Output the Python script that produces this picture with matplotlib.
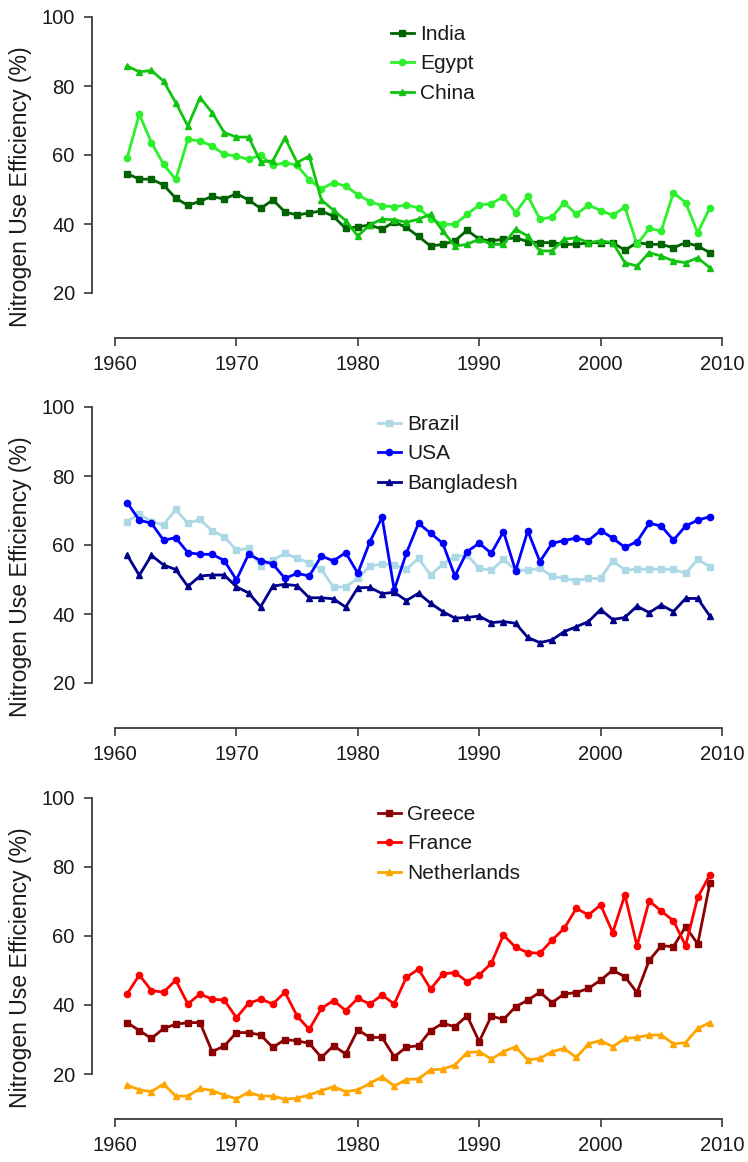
import matplotlib
matplotlib.use("Agg")
import matplotlib.pyplot as plt

# Years on the x axis (one point per year)
YEARS = list(range(1961, 2010))

# Panel 1 - green countries
INDIA = [54.6, 53.0, 53.0, 51.3, 47.5, 45.4, 46.6, 48.0, 47.2, 48.8,
         47.0, 44.5, 47.0, 43.5, 42.6, 43.2, 43.8, 42.2, 38.7, 39.2,
         39.7, 38.5, 40.6, 39.0, 36.4, 33.6, 34.1, 35.1, 38.2, 35.6,
         35.1, 35.6, 36.0, 34.9, 34.6, 34.6, 34.1, 34.1, 34.6, 34.6,
         34.6, 32.4, 34.6, 34.1, 34.1, 33.1, 34.6, 33.6, 31.7]
EGYPT = [59.2, 71.8, 63.6, 57.3, 52.9, 64.5, 64.1, 62.6, 60.2, 59.7,
         58.7, 60.0, 57.0, 57.8, 57.0, 52.8, 50.2, 52.0, 51.0, 48.5,
         46.5, 45.3, 45.0, 45.5, 44.7, 41.5, 39.9, 39.9, 42.8, 45.5,
         45.9, 47.9, 43.3, 48.1, 41.4, 42.0, 46.2, 42.8, 45.5, 43.9,
         42.5, 44.9, 34.1, 38.7, 38.0, 49.1, 46.2, 37.5, 44.7]
CHINA = [85.8, 84.1, 84.5, 81.4, 75.2, 68.4, 76.6, 72.3, 66.5, 65.2,
         65.2, 58.0, 58.3, 65.0, 57.8, 59.7, 47.0, 44.0, 41.0, 36.5,
         39.8, 41.4, 41.2, 40.5, 41.4, 42.8, 38.0, 33.6, 34.1, 35.6,
         34.1, 34.1, 38.5, 36.5, 32.2, 32.2, 35.6, 36.0, 34.6, 35.1,
         34.6, 28.8, 27.8, 31.7, 30.7, 29.3, 28.8, 30.2, 27.3]

# Panel 2 - blue countries
BRAZIL = [66.8, 69.0, 66.8, 65.8, 70.3, 66.3, 67.4, 64.1, 62.4, 58.5,
          59.0, 53.9, 55.6, 57.6, 56.1, 54.9, 53.0, 47.7, 47.9, 50.3,
          53.9, 54.5, 54.2, 53.0, 56.1, 51.3, 54.5, 56.6, 57.1, 53.2,
          52.7, 55.8, 52.7, 52.7, 53.2, 51.0, 50.3, 49.7, 50.3, 50.3,
          55.5, 52.7, 53.0, 53.0, 53.0, 52.9, 51.8, 55.8, 53.7]
USA = [72.3, 67.2, 66.3, 61.4, 62.1, 57.8, 57.3, 57.3, 55.5, 49.9,
       57.3, 55.5, 54.5, 50.3, 51.8, 51.0, 56.8, 55.4, 57.8, 51.8,
       61.0, 68.0, 47.0, 57.6, 66.3, 63.4, 60.5, 51.0, 58.1, 60.5,
       57.6, 63.9, 52.5, 64.1, 55.2, 60.5, 61.3, 62.0, 61.3, 64.2,
       62.0, 59.3, 61.0, 66.3, 65.5, 61.4, 65.5, 67.2, 68.2]
BANGLADESH = [57.1, 51.2, 57.0, 54.2, 52.9, 48.0, 51.0, 51.3, 51.3, 47.9,
              46.1, 42.1, 48.1, 48.6, 48.2, 44.7, 44.7, 44.4, 42.0, 47.6,
              47.7, 45.9, 46.3, 43.9, 46.0, 43.1, 40.7, 38.8, 39.0, 39.4,
              37.5, 37.8, 37.3, 33.2, 31.7, 32.5, 34.9, 36.3, 37.8, 41.3,
              38.4, 39.0, 42.3, 40.4, 42.6, 40.7, 44.5, 44.5, 39.4]

# Panel 3 - red / orange countries
GREECE = [34.9, 32.6, 30.3, 33.2, 34.4, 34.9, 34.9, 26.5, 28.1, 32.0,
          32.0, 31.3, 27.7, 30.0, 29.6, 28.9, 24.8, 28.2, 25.8, 32.8,
          30.6, 30.6, 25.0, 27.8, 28.2, 32.6, 34.7, 33.7, 36.9, 29.4,
          36.8, 35.8, 39.5, 41.4, 43.7, 40.7, 43.2, 43.6, 44.8, 47.2,
          50.1, 48.2, 43.6, 52.9, 57.2, 56.9, 62.7, 57.7, 75.3]
FRANCE = [43.2, 48.7, 44.2, 43.7, 47.2, 40.3, 43.2, 41.7, 41.4, 36.3,
          40.5, 41.7, 40.3, 43.7, 36.8, 32.9, 39.0, 41.3, 38.4, 41.9,
          40.3, 42.9, 40.3, 48.0, 50.4, 44.6, 49.0, 49.4, 46.8, 48.7,
          52.1, 60.3, 56.7, 55.2, 55.0, 58.8, 62.2, 68.0, 66.1, 69.0,
          61.0, 71.9, 57.1, 70.2, 67.2, 64.4, 57.2, 71.2, 77.7]
NETHERLANDS = [16.8, 15.4, 14.9, 17.1, 13.6, 13.6, 15.8, 15.2, 13.9, 12.8,
               14.7, 13.6, 13.6, 12.7, 13.0, 13.9, 15.2, 16.3, 14.9, 15.4,
               17.3, 19.2, 16.5, 18.4, 18.6, 21.2, 21.4, 22.6, 26.2, 26.5,
               24.3, 26.5, 27.9, 24.1, 24.5, 26.5, 27.4, 24.8, 28.7, 29.7,
               27.9, 30.3, 30.6, 31.3, 31.3, 28.7, 29.1, 33.2, 34.9]

X_TICKS = [1960, 1970, 1980, 1990, 2000, 2010]
Y_TICKS = [20, 40, 60, 80, 100]
Y_LABEL = "Nitrogen Use Efficiency (%)"

# Figure size in pixels and the pixel scale
W, H, DPI = 748, 1162, 100
X1960 = 115            # pixel x of the year 1960
PX_PER_YEAR = 12.14
PX_PER_UNIT = 3.45     # pixels per 1 % on the y axis
SPINE_X = 91.5         # pixel x of the y axis line
RIGHT_X = 740

FONT = "Liberation Sans"
TEXT_COLOR = "#1a1a1a"
AXIS_COLOR = "#3a3a3a"


def add_panel(fig, y100_px, series, legend_xy):
    """Draw one panel; y100_px is the pixel row of the 100 % tick."""
    bottom_px = y100_px + 321    # x axis line
    top_px = y100_px - 12
    ax = fig.add_axes([SPINE_X / W, 1 - bottom_px / H,
                       (RIGHT_X - SPINE_X) / W, (bottom_px - top_px) / H])

    ax.set_xlim(1960 - (X1960 - SPINE_X) / PX_PER_YEAR,
                1960 + (RIGHT_X - X1960) / PX_PER_YEAR)
    ax.set_ylim(20 - (bottom_px - (y100_px + 80 * PX_PER_UNIT)) / PX_PER_UNIT,
                100 + (y100_px - top_px) / PX_PER_UNIT)

    # Each country: line with small markers
    for name, values, color, marker, ms in series:
        ax.plot(YEARS, values, color=color, marker=marker, markersize=ms,
                linewidth=2.0, label=name, clip_on=False)

    # R-like axes: only left and bottom lines, limited to the tick range
    for side in ("top", "right"):
        ax.spines[side].set_visible(False)
    ax.spines["left"].set_bounds(20, 100)
    ax.spines["bottom"].set_bounds(1960, 2010)
    for side in ("left", "bottom"):
        ax.spines[side].set_color(AXIS_COLOR)
        ax.spines[side].set_linewidth(1.3)

    ax.set_xticks(X_TICKS)
    ax.set_yticks(Y_TICKS)
    ax.tick_params(axis="both", direction="out", length=6, width=1.2,
                   color=AXIS_COLOR, labelsize=14.5, labelcolor=TEXT_COLOR)
    ax.tick_params(axis="x", pad=6)
    ax.tick_params(axis="y", pad=6)
    for lab in ax.get_xticklabels() + ax.get_yticklabels():
        lab.set_family(FONT)

    ax.set_ylabel(Y_LABEL, fontsize=16.6, family=FONT, color=TEXT_COLOR)
    # label centre sits ~170 px below the 100 tick, right edge at x = 32 px
    label_y = ((bottom_px - (y100_px + 170)) / (bottom_px - top_px))
    ax.yaxis.set_label_coords((32 - SPINE_X) / (RIGHT_X - SPINE_X), label_y)

    lx, ly = legend_xy
    ax.legend(loc="upper left", bbox_to_anchor=(lx / W, 1 - ly / H),
              bbox_transform=fig.transFigure, frameon=False, borderpad=0,
              borderaxespad=0, handlelength=1.1, handletextpad=0.3,
              labelspacing=0.5, prop={"family": FONT, "size": 15},
              labelcolor=TEXT_COLOR)
    return ax


def main():
    fig = plt.figure(figsize=(W / DPI, H / DPI), dpi=DPI)

    add_panel(fig, 17, [
        ("India", INDIA, "#006400", "s", 4.5),
        ("Egypt", EGYPT, "#2bf02b", "o", 4.5),
        ("China", CHINA, "#10c410", "^", 5),
    ], (391, 25))

    add_panel(fig, 407, [
        ("Brazil", BRAZIL, "#add8e6", "s", 4.5),
        ("USA", USA, "#0000ff", "o", 4.5),
        ("Bangladesh", BANGLADESH, "#00008b", "^", 5),
    ], (378, 415))

    add_panel(fig, 798, [
        ("Greece", GREECE, "#8b0000", "s", 4.5),
        ("France", FRANCE, "#ff0000", "o", 4.5),
        ("Netherlands", NETHERLANDS, "#ffa500", "^", 5),
    ], (378, 805))

    fig.savefig("out.png", dpi=DPI)
    plt.close(fig)
    print("Saved: out.png")


if __name__ == "__main__":
    main()
